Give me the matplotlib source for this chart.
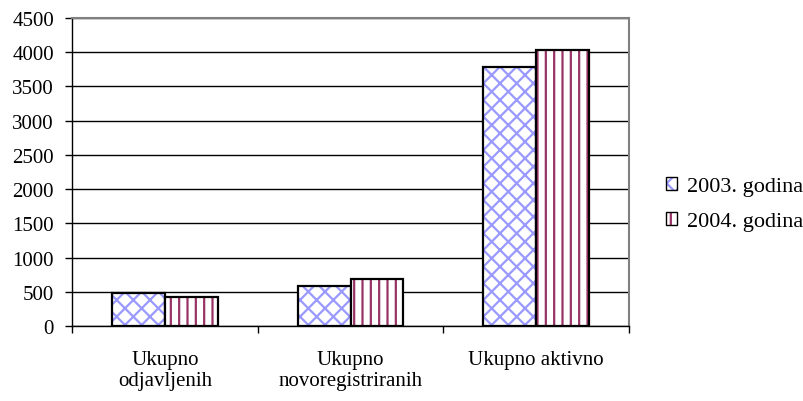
import numpy as np
import matplotlib
matplotlib.use("Agg")
import matplotlib.pyplot as plt
from matplotlib.patches import Patch

CATEGORIES = ["Ukupno\nodjavljenih", "Ukupno\nnovoregistriranih", "Ukupno aktivno"]
SERIES = ["2003. godina", "2004. godina"]
VALUES_2003 = [480, 585, 3780]
VALUES_2004 = [430, 685, 4040]
YTICKS = [0, 500, 1000, 1500, 2000, 2500, 3000, 3500, 4000, 4500]
COLORS = {"2003. godina": "#9999FF", "2004. godina": "#993366"}
HATCHES = {"2003. godina": "xx", "2004. godina": "||"}

plt.rcParams["font.family"] = ["Liberation Serif", "DejaVu Serif"]
plt.rcParams["font.size"] = 15
plt.rcParams["hatch.linewidth"] = 1.6

fig = plt.figure(figsize=(8.04, 4.02), dpi=100)
ax = fig.add_axes([0.0896, 0.1866, 0.6927, 0.766])

x = np.arange(len(CATEGORIES))
width = 0.285
for offset, label, vals in [(-width / 2, SERIES[0], VALUES_2003), (width / 2, SERIES[1], VALUES_2004)]:
    bars = ax.bar(x + offset, vals, width, facecolor="white", edgecolor="black",
                  linewidth=1.6, hatch=HATCHES[label], zorder=3)
    for b in bars:
        b._hatch_color = matplotlib.colors.to_rgba(COLORS[label])

ax.set_xlim(-0.5, len(CATEGORIES) - 0.5)
ax.set_ylim(0, 4500)
ax.set_yticks(YTICKS)
ax.yaxis.grid(True, color="black", linewidth=1.0, zorder=0)
ax.set_axisbelow(True)

ax.set_xticks(x)
ax.set_xticklabels(CATEGORIES, linespacing=1.15)
ax.tick_params(axis="x", which="major", length=0, pad=17)
ax.set_xticks(np.arange(len(CATEGORIES) + 1) - 0.5, minor=True)
ax.tick_params(axis="x", which="minor", length=5, direction="out", width=1)
ax.tick_params(axis="y", length=5, direction="out", width=1, pad=8)

for side in ["top", "right"]:
    ax.spines[side].set_color("#808080")
    ax.spines[side].set_linewidth(1.5)
for side in ["left", "bottom"]:
    ax.spines[side].set_color("black")
    ax.spines[side].set_linewidth(1.0)

handles = []
for label in SERIES:
    p = Patch(facecolor="white", edgecolor="black", hatch=HATCHES[label], linewidth=1.0, label=label)
    p._hatch_color = matplotlib.colors.to_rgba(COLORS[label])
    handles.append(p)
fig.legend(handles=handles, loc="center left", bbox_to_anchor=(0.828, 0.49),
           frameon=False, handlelength=0.52, handleheight=0.52, handletextpad=0.42,
           labelspacing=0.7, borderaxespad=0, borderpad=0, fontsize=16)

fig.savefig("out.png", dpi=100)
